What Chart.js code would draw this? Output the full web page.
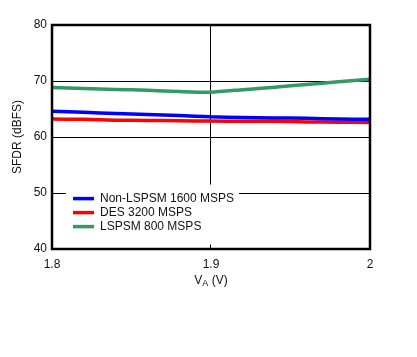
<!DOCTYPE html>
<html>
<head>
<meta charset="utf-8">
<script src="https://cdn.jsdelivr.net/npm/chart.js@4/dist/chart.umd.min.js"></script>
<style>
html,body{margin:0;padding:0;background:#fff;}
#wrap{width:417px;height:357px;position:relative;}
</style>
</head>
<body>
<div id="wrap"><canvas id="c" width="417" height="357"></canvas></div>
<script>
const voltages = [1.80, 1.82, 1.84, 1.86, 1.88, 1.90, 1.92, 1.94, 1.96, 1.98, 2.00];
const nonLspsm1600 = [64.6, 64.4, 64.2, 64.0, 63.85, 63.6, 63.5, 63.4, 63.35, 63.2, 63.15];
const des3200 = [63.2, 63.15, 63.0, 62.95, 62.9, 62.85, 62.8, 62.8, 62.7, 62.65, 62.6];
const lspsm800 = [68.85, 68.68, 68.5, 68.33, 68.12, 68.0, 68.45, 68.9, 69.38, 69.85, 70.3];
const seriesNames = ['Non-LSPSM 1600 MSPS', 'DES 3200 MSPS', 'LSPSM 800 MSPS'];
const seriesColors = ['#0000ff', '#ff0000', '#339966'];
const xTickValues = [1.8, 1.9, 2.0];
const yTickValues = [40, 50, 60, 70, 80];

const FONT = '"Liberation Sans", Arial, sans-serif';
const TXT = '#111';

function pts(vals){ return voltages.map((v,i)=>({x:v,y:vals[i]})); }

const decor = {
  id:'decor',
  afterDatasetsDraw(chart){
    const ctx = chart.ctx, a = chart.chartArea;
    const xs = chart.scales.x, ys = chart.scales.y;
    ctx.save();
    // legend box
    const lx = xs.getPixelForValue(1.8) + 14, ly = ys.getPixelForValue(51.5);
    const lw = 173, lh = 60;
    ctx.fillStyle = '#fff';
    ctx.fillRect(lx, ly, lw, lh);
    ctx.font = '12px ' + FONT;
    ctx.textBaseline = 'middle';
    ctx.textAlign = 'left';
    chart.data.datasets.forEach((ds,i)=>{
      const y = ly + 14 + i*14;
      ctx.strokeStyle = ds.borderColor;
      ctx.lineWidth = 3.5;
      ctx.beginPath(); ctx.moveTo(lx+7, y); ctx.lineTo(lx+28, y); ctx.stroke();
      ctx.fillStyle = TXT;
      ctx.fillText(ds.label, lx+34, y+0.5);
    });
    // frame
    ctx.strokeStyle = '#000';
    ctx.lineWidth = 2.5;
    ctx.strokeRect(a.left, a.top, a.right-a.left, a.bottom-a.top);
    // y title
    ctx.fillStyle = TXT;
    ctx.font = '12px ' + FONT;
    ctx.translate(18, (a.top+a.bottom)/2);
    ctx.rotate(-Math.PI/2);
    ctx.textAlign = 'center';
    ctx.textBaseline = 'middle';
    ctx.fillText('SFDR (dBFS)', 0, 0);
    ctx.restore();
    // x title with subscript
    ctx.save();
    ctx.fillStyle = TXT;
    ctx.textBaseline = 'alphabetic';
    ctx.textAlign = 'left';
    ctx.font = '12px ' + FONT;
    const wV = ctx.measureText('V').width;
    const wRest = ctx.measureText(' (V)').width;
    ctx.font = '9px ' + FONT;
    const wA = ctx.measureText('A').width;
    const total = wV + wA + wRest;
    const cx = (a.left + a.right)/2;
    let x0 = cx - total/2;
    const base = 284;
    ctx.font = '12px ' + FONT;
    ctx.fillText('V', x0, base);
    ctx.font = '9px ' + FONT;
    ctx.fillText('A', x0 + wV, base + 2);
    ctx.font = '12px ' + FONT;
    ctx.fillText(' (V)', x0 + wV + wA, base);
    ctx.restore();
  }
};

new Chart(document.getElementById('c'), {
  type:'line',
  data:{
    datasets:[
      {label:seriesNames[0], data:pts(nonLspsm1600), borderColor:seriesColors[0], backgroundColor:seriesColors[0]},
      {label:seriesNames[1], data:pts(des3200), borderColor:seriesColors[1], backgroundColor:seriesColors[1]},
      {label:seriesNames[2], data:pts(lspsm800), borderColor:seriesColors[2], backgroundColor:seriesColors[2]}
    ]
  },
  options:{
    responsive:false,
    animation:false,
    devicePixelRatio:1,
    layout:{padding:{left:0,top:25,right:47,bottom:0}},
    elements:{
      line:{borderWidth:3.5, tension:0.2, fill:false},
      point:{radius:0, hoverRadius:0}
    },
    plugins:{legend:{display:false}, tooltip:{enabled:false}, title:{display:false}},
    scales:{
      x:{
        type:'linear', min:1.8, max:2.0,
        afterBuildTicks(s){ s.ticks = xTickValues.map(v=>({value:v})); },
        afterFit(s){ s.height = 108; },
        grid:{color:'#000', lineWidth:1, drawTicks:false},
        border:{display:false},
        ticks:{padding:8, color:TXT, font:{family:FONT, size:12}, maxRotation:0, autoSkip:false,
          callback:v=>String(+(+v).toFixed(1))}
      },
      y:{
        type:'linear', min:40, max:80,
        afterBuildTicks(s){ s.ticks = yTickValues.map(v=>({value:v})); },
        afterFit(s){ s.width = 52; },
        grid:{color:'#000', lineWidth:1, drawTicks:false},
        border:{display:false},
        ticks:{padding:5, color:TXT, font:{family:FONT, size:12}, callback:v=>String(v)}
      }
    }
  },
  plugins:[decor]
});
</script>
</body>
</html>
